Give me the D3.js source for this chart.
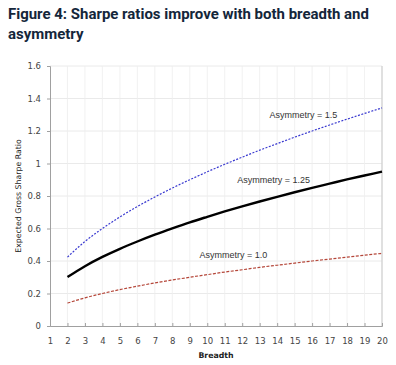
<!DOCTYPE html>
<html>
<head>
<meta charset="utf-8">
<script src="https://cdn.jsdelivr.net/npm/d3@7"></script>
<style>
  body { margin: 0; background: #fff; }
  svg { display: block; }
</style>
</head>
<body>
<div id="chart"></div>
<script>
// breadth values on the x axis
var breadth = [2, 3, 4, 5, 6, 7, 8, 9, 10, 11, 12, 13, 14, 15, 16, 17, 18, 19, 20];
var xTicks = d3.range(1, 21);
var yTicks = [0, 0.2, 0.4, 0.6, 0.8, 1, 1.2, 1.4, 1.6];

var asym15 = [0.424, 0.520, 0.600, 0.671, 0.735, 0.794, 0.849, 0.900, 0.949, 0.995, 1.039, 1.082, 1.122, 1.162, 1.200, 1.237, 1.273, 1.308, 1.342];
var asym125 = [0.301, 0.368, 0.425, 0.475, 0.520, 0.562, 0.601, 0.638, 0.672, 0.705, 0.736, 0.766, 0.795, 0.823, 0.850, 0.876, 0.902, 0.926, 0.950];
var asym10 = [0.141, 0.173, 0.200, 0.224, 0.245, 0.265, 0.283, 0.300, 0.316, 0.332, 0.346, 0.361, 0.374, 0.387, 0.400, 0.412, 0.424, 0.436, 0.447];
var seriesLabels = ["Asymmetry = 1.5", "Asymmetry = 1.25", "Asymmetry = 1.0"];

var W = 396, H = 365;
var margin = {top: 66, right: 14, bottom: 39, left: 50},
    width = W - margin.left - margin.right,
    height = H - margin.top - margin.bottom;

var svg = d3.select("#chart")
    .append("svg")
        .attr("width", W)
        .attr("height", H);

// title
var title = svg.append("text")
    .attr("x", 8)
    .attr("y", 19)
    .style("font-family", "Roboto, 'Noto Sans', sans-serif")
    .style("font-weight", "700")
    .style("font-size", "16px")
    .style("fill", "#14263a");
var t1 = title.append("tspan").attr("x", 8).attr("dy", 0).text("Figure 4: Sharpe ratios improve with both breadth and");
title.append("tspan").attr("x", 8).attr("dy", 20).text("asymmetry");
// shrink to fit the width seen in the reference
var tw = t1.node().getComputedTextLength();
if (tw > 361) title.style("font-size", (16 * 361 / tw) + "px");

var g = svg.append("g")
    .attr("transform", "translate(" + margin.left + "," + margin.top + ")");

var x = d3.scaleLinear()
    .domain([1, 20])
    .range([0, width]);

var y = d3.scaleLinear()
    .domain([0, 1.6])
    .range([height, 0]);

// grid
g.append("g")
    .selectAll("line")
    .data(yTicks.slice(1))
    .enter()
    .append("line")
        .attr("x1", 0)
        .attr("x2", width)
        .attr("y1", function(d) { return y(d); })
        .attr("y2", function(d) { return y(d); })
        .style("stroke", "#e4e4e4")
        .style("stroke-width", 0.8);

g.append("g")
    .selectAll("line")
    .data(xTicks.slice(1))
    .enter()
    .append("line")
        .attr("x1", function(d) { return x(d); })
        .attr("x2", function(d) { return x(d); })
        .attr("y1", 0)
        .attr("y2", height)
        .style("stroke", "#eeeeee")
        .style("stroke-width", 0.8);

// right border
g.append("line")
    .attr("x1", width).attr("x2", width)
    .attr("y1", 0).attr("y2", height)
    .style("stroke", "#c8c8c8");

// axes
var xAxis = g.append("g")
    .attr("class", "xAxis")
    .attr("transform", "translate(0," + height + ")")
    .call(d3.axisBottom(x).tickValues(xTicks).tickSize(-3).tickPadding(12).tickFormat(d3.format("d")));

var yAxis = g.append("g")
    .attr("class", "yAxis")
    .call(d3.axisLeft(y).tickValues(yTicks).tickSize(3).tickPadding(6).tickFormat(function(d) { return d; }));

[xAxis, yAxis].forEach(function(a) {
    a.select(".domain").style("stroke", "#a0a0a0");
    a.selectAll(".tick line").style("stroke", "#a0a0a0");
    a.selectAll(".tick text")
        .style("font-family", "'DejaVu Sans', sans-serif")
        .style("font-size", "8.5px")
        .style("fill", "#444");
});

// lines
var line = d3.line()
    .x(function(d, i) { return x(breadth[i]); })
    .y(function(d) { return y(d); })
    .curve(d3.curveMonotoneX);

g.append("path")
    .datum(asym15)
    .attr("d", line)
    .style("fill", "none")
    .style("stroke", "#3a3ad0")
    .style("stroke-width", 1.2)
    .style("stroke-dasharray", "2,1.5");

g.append("path")
    .datum(asym125)
    .attr("d", line)
    .style("fill", "none")
    .style("stroke", "#000")
    .style("stroke-width", 2.4);

g.append("path")
    .datum(asym10)
    .attr("d", line)
    .style("fill", "none")
    .style("stroke", "#b5473a")
    .style("stroke-width", 1.2)
    .style("stroke-dasharray", "3,1.5");

// series labels
var labelPos = [[15.5, 1.28], [13.8, 0.878], [11.5, 0.417]];
g.selectAll("text.series")
    .data(seriesLabels)
    .enter()
    .append("text")
        .attr("class", "series")
        .attr("x", function(d, i) { return x(labelPos[i][0]); })
        .attr("y", function(d, i) { return y(labelPos[i][1]); })
        .attr("text-anchor", "middle")
        .style("font-family", "'Liberation Sans', sans-serif")
        .style("font-size", "9px")
        .style("fill", "#333")
        .text(function(d) { return d; });

// axis labels
g.append("text")
    .attr("transform", "rotate(-90)")
    .attr("x", -height / 2)
    .attr("y", -29)
    .style("text-anchor", "middle")
    .style("font-family", "'DejaVu Sans', sans-serif")
    .style("font-size", "7.8px")
    .style("fill", "#222")
    .text("Expected Gross Sharpe Ratio");

g.append("text")
    .attr("x", width / 2)
    .attr("y", height + 32)
    .attr("text-anchor", "middle")
    .style("font-family", "'DejaVu Sans', sans-serif")
    .style("font-weight", "bold")
    .style("font-size", "7.8px")
    .style("fill", "#222")
    .text("Breadth");
</script>
</body>
</html>
